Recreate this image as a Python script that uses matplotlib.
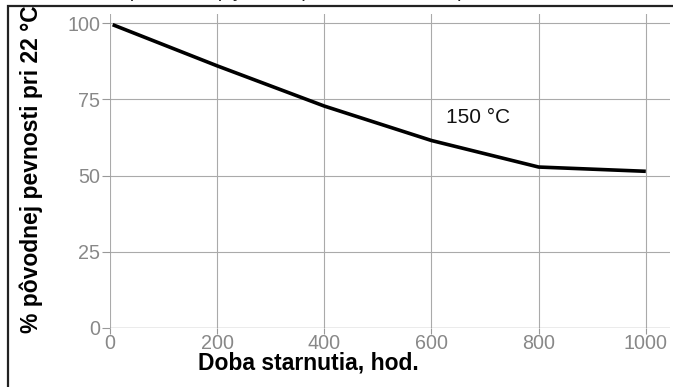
import matplotlib.pyplot as plt
from matplotlib.patches import Rectangle

plt.rcParams["font.family"] = ["Liberation Sans", "DejaVu Sans"]

# aging time (hours) vs. retained strength (% of value at 22 °C)
hours = [5, 200, 400, 600, 800, 1000]
strength = [99.5, 86, 72.8, 61.5, 52.8, 51.4]
x_ticks = [0, 200, 400, 600, 800, 1000]
y_ticks = [0, 25, 50, 75, 100]

fig = plt.figure(figsize=(6.73, 3.87), dpi=100)
ax = fig.add_axes([0.1634, 0.1525, 0.832, 0.8113])

ax.plot(hours, strength, color="black", lw=2.6, solid_capstyle="butt", zorder=3)
ax.text(627, 69, "150 °C", fontsize=15, color="#111111", va="center", ha="left")

ax.set_xlim(0, 1045)
ax.set_ylim(0, 103)
ax.set_xticks(x_ticks)
ax.set_yticks(y_ticks)
ax.grid(True, color="#aaaaaa", lw=0.8)
ax.axhline(0, color="#888888", lw=0.9, zorder=2)
for s in ax.spines.values():
    s.set_visible(False)
ax.tick_params(axis="both", colors="#999999", labelcolor="#888888", labelsize=14.2, width=0.8)
ax.tick_params(axis="y", length=6, pad=1)
ax.tick_params(axis="x", length=4, pad=0)

fig.text(0.458, 0.062, "Doba starnutia, hod.", fontsize=16.5, fontweight="bold", ha="center", va="center")
fig.text(0.047, 0.562, "% pôvodnej pevnosti pri 22 °C", fontsize=16.5, fontweight="bold",
         rotation=90, ha="center", va="center")

# chart title sits mostly above the top edge
fig.text(0.107, 1.008, "Strata pevnosti vplyvom tepelného starnutia pri 150 °C",
         fontsize=14, color="#222222", ha="left", va="baseline")

# outer frame
fig.patches.append(Rectangle((0.0119, -0.2), 1.2, 0.9845 + 0.2, transform=fig.transFigure,
                             fill=False, edgecolor="#222222", lw=1.6, clip_on=False))

fig.savefig("out.png", dpi=100)
